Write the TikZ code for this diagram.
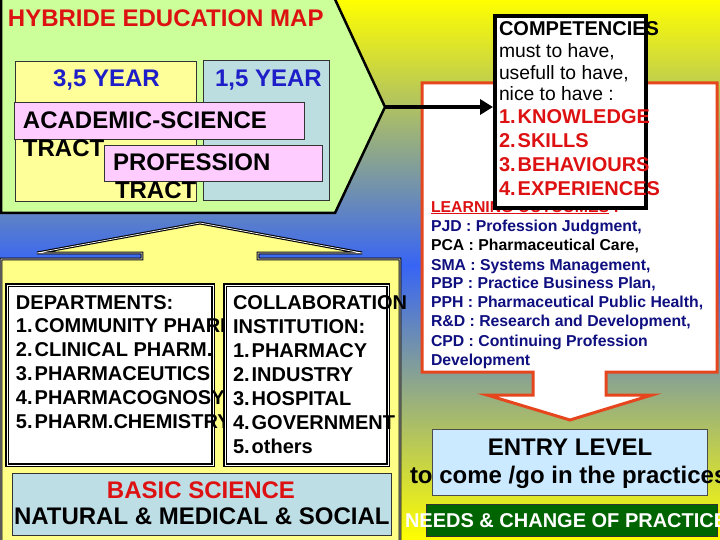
\documentclass[tikz,border=0pt]{standalone}
\usepackage{fontspec}
\setmainfont{Liberation Sans}
\usetikzlibrary{arrows.meta}
\definecolor{bgyellow}{RGB}{255,255,0}
\definecolor{bgblue}{RGB}{55,100,245}
\definecolor{calgreen}{RGB}{204,255,153}
\definecolor{boxyellow}{RGB}{255,255,153}
\definecolor{boxteal}{RGB}{188,222,224}
\definecolor{boxpink}{RGB}{255,204,255}
\definecolor{titlered}{RGB}{221,17,17}
\definecolor{yearblue}{RGB}{30,30,200}
\definecolor{lowyellow}{RGB}{255,255,136}
\definecolor{outred}{RGB}{230,70,30}
\definecolor{navy}{RGB}{15,15,128}
\definecolor{entryblue}{RGB}{204,234,255}
\definecolor{darkgreen}{RGB}{0,100,0}
\definecolor{basicblue}{RGB}{190,222,230}
\begin{document}
\begin{tikzpicture}[x=1pt,y=-1pt,
  txt/.style={anchor=base west, inner sep=0pt, outer sep=0pt},
  ctxt/.style={anchor=base, inner sep=0pt, outer sep=0pt},
  bigfont/.style={font=\fontsize{24}{28}\selectfont\bfseries},
  midfont/.style={font=\fontsize{20}{23}\selectfont\bfseries},
  smallfont/.style={font=\fontsize{15.8}{19}\selectfont\bfseries},
  regfont/.style={font=\fontsize{19.3}{23}\selectfont},
  thinbox/.style={draw=black!80, line width=0.8pt},
  dblbox/.style={fill=white, draw=black, double=white, double distance=0.8pt, line width=1.2pt}]
\useasboundingbox (0,0) rectangle (720,540);
\clip (0,0) rectangle (720,540);
% background
\shade[top color=bgyellow, bottom color=bgblue] (0,0) rectangle (720,266);
\shade[top color=bgblue, bottom color=bgyellow] (0,265) rectangle (720,540);

% green callout
\draw[fill=calgreen, draw=black, line width=2.5pt] (1,-5) -- (333,-5) -- (385,107) -- (335,213) -- (1,213) -- cycle;
\coordinate (apex) at (385,107);
\node[txt, bigfont, text=titlered] (title) at (8,27) {HYBRIDE EDUCATION MAP};
\draw[thinbox, fill=boxyellow] (15,61) rectangle (196,201);
\draw[thinbox, fill=boxteal] (203,60) rectangle (329,200);
\node[txt, bigfont, text=yearblue] (y35) at (53,87) {3,5 YEAR};
\node[txt, bigfont, text=yearblue] (y15) at (215,87) {1,5 YEAR};
\draw[thinbox, fill=boxpink] (14,102) rectangle (304,139);
\node[txt, bigfont] (acad) at (23,129) {ACADEMIC-SCIENCE};
\node[txt, bigfont] (tract1) at (23,157) {TRACT};
\draw[thinbox, fill=boxpink] (104,145) rectangle (322,181);
\node[txt, bigfont] (prof) at (113,171) {PROFESSION};
\node[txt, bigfont] (tract2) at (115,199) {TRACT};

% lower yellow callout
\draw[fill=lowyellow, draw=black, double=white, double distance=0.7pt, line width=1.1pt]
  (1,259) -- (142,259) -- (142,253) -- (37,253) -- (200,223) -- (362,253) -- (258,253) -- (258,259) -- (400,259) -- (400,548) -- (1,548) -- cycle;
\draw[dblbox] (7,285) rectangle (213,465);
\foreach \t [count=\i] in {DEPARTMENTS:, 1.\kern2pt COMMUNITY PHARM., 2.\kern2pt CLINICAL PHARM., 3.\kern2pt PHARMACEUTICS, 4.\kern2pt PHARMACOGNOSY, 5.\kern2pt PHARM.CHEMISTRY}
  \node[txt, midfont] (dep\i) at (16,{309+23.8*(\i-1)}) {\t};
\draw[dblbox] (225,285) rectangle (388,465);
\foreach \t [count=\i] in {COLLABORATION, INSTITUTION:, 1.\kern2pt PHARMACY, 2.\kern2pt INDUSTRY, 3.\kern2pt HOSPITAL, 4.\kern2pt GOVERNMENT, 5.\kern2pt others}
  \node[txt, midfont] (col\i) at (233,{309+24*(\i-1)}) {\t};
\draw[thinbox, fill=basicblue] (12,473) rectangle (391,535);
\node[ctxt, bigfont, text=titlered] (basic) at (201,498) {BASIC SCIENCE};
\node[txt, bigfont] (natural) at (14,524) {NATURAL \& MEDICAL \& SOCIAL};

% red callout (learning outcomes)
\draw[fill=white, draw=outred, line width=3pt]
  (422,83) -- (717,83) -- (717,372) -- (606,372) -- (606,395) -- (652,395) -- (570,420) -- (487,395) -- (533,395) -- (533,372) -- (422,372) -- cycle;
\node[txt, smallfont, text=titlered] (lo0) at (431,212) {\underline{LEARNING OUTCOMES} :};
\node[txt, smallfont, text=navy] (lo1) at (431,231) {PJD : Profession Judgment,};
\node[txt, smallfont, text=black] (lo2) at (431,251) {PCA : Pharmaceutical Care,};
\node[txt, smallfont, text=navy] (lo3) at (431,270) {SMA : Systems Management,};
\node[txt, smallfont, text=navy] (lo4) at (431,288) {PBP : Practice Business Plan,};
\node[txt, smallfont, text=navy] (lo5) at (431,307) {PPH : Pharmaceutical Public Health,};
\node[txt, smallfont, text=navy] (lo6) at (431,326) {R\&D : Research and Development,};
\node[txt, smallfont, text=navy] (lo7) at (431,346) {CPD : Continuing Profession};
\node[txt, smallfont, text=navy] (lo8) at (431,365) {Development};

% competencies box
\node[draw=black, line width=4pt, fill=white, minimum width=151pt, minimum height=192pt, inner sep=0pt, anchor=north west] (comp) at (493,14) {};
\node[txt, midfont] (c0) at (499,36) {COMPETENCIES};
\node[txt, regfont] (c1) at (499,58) {must to have,};
\node[txt, regfont] (c2) at (499,80) {usefull to have,};
\node[txt, regfont] (c3) at (499,101) {nice to have :};
\node[txt, midfont, text=titlered] (c4) at (499,124) {1.\kern2pt KNOWLEDGE};
\node[txt, midfont, text=titlered] (c5) at (499,148) {2.\kern2pt SKILLS};
\node[txt, midfont, text=titlered] (c6) at (499,172) {3.\kern2pt BEHAVIOURS};
\node[txt, midfont, text=titlered] (c7) at (499,196) {4.\kern2pt EXPERIENCES};
\draw[line width=4pt, -{Triangle[length=13pt,width=15pt]}] (apex) -- (apex -| comp.west);

% entry level
\draw[thinbox, draw=black!70, fill=entryblue] (432,429) rectangle (707,495);
\node[ctxt, bigfont] (entry) at (570,455) {ENTRY LEVEL};
\node[txt, bigfont] (come) at (410,483) {to come /go in the practices};
\draw[thinbox, fill=darkgreen] (426,504) rectangle (717,536);
\node[txt, midfont, text=white] (needs) at (405,527) {NEEDS \& CHANGE OF PRACTICE};
\end{tikzpicture}
\end{document}
